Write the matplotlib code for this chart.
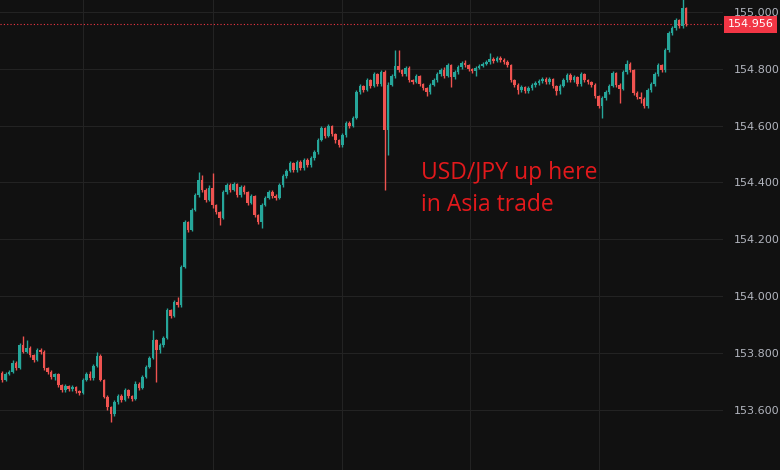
import matplotlib
matplotlib.use("Agg")
import matplotlib.pyplot as plt
import matplotlib.transforms as mtransforms
import numpy as np

# USD/JPY short-timeframe candles (prices)
first_open = 153.729
closes = [
    153.704, 153.725, 153.732, 153.764, 153.746, 153.827, 153.803, 153.817, 153.792, 153.774,
    153.810, 153.803, 153.746, 153.732, 153.715, 153.725, 153.686, 153.669, 153.683, 153.672,
    153.679, 153.665, 153.658, 153.704, 153.725, 153.711, 153.753, 153.788, 153.704, 153.644,
    153.609, 153.584, 153.627, 153.648, 153.634, 153.669, 153.648, 153.637, 153.690, 153.676,
    153.715, 153.750, 153.781, 153.845, 153.810, 153.827, 153.852, 153.950, 153.929, 153.979,
    153.968, 154.102, 154.260, 154.232, 154.303, 154.355, 154.408, 154.373, 154.338, 154.380,
    154.320, 154.296, 154.274, 154.366, 154.391, 154.373, 154.394, 154.355, 154.384, 154.366,
    154.327, 154.352, 154.285, 154.260, 154.320, 154.345, 154.366, 154.352, 154.345, 154.391,
    154.422, 154.440, 154.468, 154.443, 154.472, 154.450, 154.479, 154.461, 154.486, 154.507,
    154.549, 154.591, 154.563, 154.598, 154.570, 154.549, 154.531, 154.567, 154.609, 154.598,
    154.627, 154.718, 154.739, 154.725, 154.760, 154.739, 154.781, 154.746, 154.788, 154.584,
    154.743, 154.774, 154.810, 154.796, 154.781, 154.803, 154.760, 154.753, 154.774, 154.746,
    154.732, 154.718, 154.743, 154.760, 154.781, 154.796, 154.774, 154.813, 154.771, 154.788,
    154.806, 154.820, 154.813, 154.799, 154.792, 154.803, 154.810, 154.817, 154.824, 154.834,
    154.827, 154.838, 154.831, 154.824, 154.813, 154.760, 154.743, 154.725, 154.736, 154.722,
    154.732, 154.743, 154.750, 154.757, 154.764, 154.753, 154.764, 154.739, 154.722, 154.739,
    154.760, 154.778, 154.760, 154.771, 154.746, 154.781, 154.760, 154.753, 154.743, 154.704,
    154.669, 154.697, 154.718, 154.739, 154.785, 154.743, 154.729, 154.788, 154.817, 154.796,
    154.715, 154.700, 154.693, 154.669, 154.725, 154.746, 154.781, 154.813, 154.796, 154.866,
    154.926, 154.943, 154.972, 154.950, 155.014, 154.956,
]
highs = [
    153.736, 153.732, 153.740, 153.775, 153.770, 153.834, 153.859, 153.845, 153.822, 153.797,
    153.815, 153.815, 153.808, 153.750, 153.740, 153.730, 153.730, 153.690, 153.690, 153.688,
    153.685, 153.684, 153.670, 153.710, 153.732, 153.735, 153.760, 153.803, 153.795, 153.708,
    153.650, 153.612, 153.635, 153.655, 153.655, 153.676, 153.672, 153.652, 153.700, 153.697,
    153.722, 153.757, 153.790, 153.880, 153.850, 153.835, 153.860, 153.958, 153.955, 153.985,
    153.995, 154.110, 154.268, 154.265, 154.310, 154.362, 154.436, 154.425, 154.380, 154.390,
    154.433, 154.325, 154.300, 154.372, 154.398, 154.396, 154.400, 154.398, 154.392, 154.390,
    154.370, 154.360, 154.356, 154.290, 154.326, 154.352, 154.372, 154.372, 154.360, 154.398,
    154.430, 154.446, 154.475, 154.472, 154.480, 154.478, 154.485, 154.485, 154.492, 154.514,
    154.556, 154.600, 154.596, 154.606, 154.602, 154.575, 154.553, 154.574, 154.616, 154.615,
    154.634, 154.726, 154.746, 154.744, 154.767, 154.764, 154.790, 154.786, 154.796, 154.795,
    154.755, 154.782, 154.866, 154.866, 154.800, 154.810, 154.808, 154.765, 154.780, 154.778,
    154.750, 154.736, 154.750, 154.767, 154.788, 154.803, 154.805, 154.820, 154.817, 154.795,
    154.813, 154.826, 154.830, 154.818, 154.803, 154.808, 154.816, 154.822, 154.830, 154.855,
    154.842, 154.845, 154.844, 154.838, 154.830, 154.818, 154.765, 154.750, 154.742, 154.740,
    154.738, 154.750, 154.756, 154.763, 154.770, 154.770, 154.770, 154.768, 154.743, 154.745,
    154.768, 154.785, 154.785, 154.778, 154.775, 154.788, 154.785, 154.765, 154.757, 154.748,
    154.708, 154.705, 154.725, 154.746, 154.792, 154.790, 154.748, 154.796, 154.831, 154.822,
    154.800, 154.720, 154.718, 154.700, 154.732, 154.753, 154.788, 154.820, 154.818, 154.874,
    154.934, 154.950, 154.978, 154.976, 155.045, 155.016,
]
lows = [
    153.697, 153.700, 153.720, 153.728, 153.740, 153.742, 153.798, 153.798, 153.786, 153.768,
    153.770, 153.795, 153.740, 153.725, 153.708, 153.705, 153.679, 153.660, 153.662, 153.666,
    153.666, 153.658, 153.650, 153.655, 153.700, 153.705, 153.705, 153.748, 153.700, 153.640,
    153.600, 153.556, 153.578, 153.620, 153.628, 153.630, 153.640, 153.630, 153.632, 153.668,
    153.672, 153.710, 153.745, 153.778, 153.697, 153.800, 153.820, 153.848, 153.922, 153.925,
    153.962, 153.962, 154.098, 154.225, 154.228, 154.298, 154.350, 154.366, 154.330, 154.334,
    154.310, 154.288, 154.250, 154.270, 154.360, 154.365, 154.368, 154.348, 154.350, 154.360,
    154.320, 154.322, 154.278, 154.252, 154.239, 154.315, 154.340, 154.345, 154.338, 154.340,
    154.385, 154.415, 154.435, 154.436, 154.438, 154.444, 154.445, 154.455, 154.455, 154.480,
    154.500, 154.545, 154.556, 154.558, 154.563, 154.540, 154.524, 154.525, 154.560, 154.592,
    154.594, 154.622, 154.712, 154.718, 154.720, 154.732, 154.735, 154.740, 154.740, 154.373,
    154.496, 154.738, 154.768, 154.790, 154.774, 154.776, 154.752, 154.745, 154.748, 154.740,
    154.725, 154.704, 154.712, 154.738, 154.755, 154.776, 154.768, 154.770, 154.736, 154.764,
    154.782, 154.800, 154.806, 154.792, 154.786, 154.775, 154.798, 154.805, 154.812, 154.818,
    154.820, 154.822, 154.825, 154.818, 154.806, 154.752, 154.736, 154.710, 154.718, 154.715,
    154.716, 154.726, 154.736, 154.743, 154.750, 154.746, 154.746, 154.732, 154.707, 154.712,
    154.735, 154.755, 154.752, 154.752, 154.738, 154.740, 154.752, 154.745, 154.735, 154.697,
    154.660, 154.627, 154.690, 154.712, 154.735, 154.736, 154.679, 154.725, 154.782, 154.790,
    154.708, 154.692, 154.680, 154.662, 154.662, 154.718, 154.740, 154.775, 154.788, 154.790,
    154.860, 154.920, 154.938, 154.944, 154.945, 154.950,
]

price_ticks = [153.6, 153.8, 154.0, 154.2, 154.4, 154.6, 154.8, 155.0]
time_grid = [23.1, 60.0, 96.9, 133.4, 170.0]  # session gridlines (candle index)
note_text = "USD/JPY up here\nin Asia trade"

BG = "#111111"
GRID = "#232323"
UP = "#26a69a"
DOWN = "#ef5350"
LABEL = "#b2b5be"

opens = [first_open] + closes[:-1]
idx = np.arange(len(closes))
o = np.array(opens)
c = np.array(closes)
h = np.array(highs)
l = np.array(lows)
up = c >= o
colors = np.where(up, UP, DOWN)

fig = plt.figure(figsize=(7.8, 4.7), dpi=100, facecolor=BG)
ax = fig.add_axes([0, 0, 0.927, 1])
ax.set_facecolor(BG)

ax.vlines(idx, l, h, colors=colors, lw=1.0, zorder=3)
body_lo = np.minimum(o, c)
body_h = np.maximum(np.abs(c - o), 0.002)
ax.bar(idx, body_h, bottom=body_lo, width=0.72, color=colors, linewidth=0, zorder=4)

ax.set_xlim(-0.6, len(closes) - 1 + 10.5)
ax.set_ylim(153.387, 155.042)

ax.set_yticks(price_ticks)
ax.set_yticklabels([f"{p:.3f}" for p in price_ticks])
ax.yaxis.tick_right()
ax.tick_params(axis="y", length=0, pad=8, labelsize=8, labelcolor=LABEL)
ax.set_xticks([])
for p in price_ticks:
    ax.axhline(p, color=GRID, lw=0.8, zorder=1)
for t in time_grid:
    ax.axvline(t, color=GRID, lw=0.8, zorder=1)
for s in ax.spines.values():
    s.set_visible(False)

# last price line + label
last = closes[-1]
ax.axhline(last, color="#f23645", lw=0.8, ls=(0, (1, 2)), zorder=2)
trans = mtransforms.blended_transform_factory(ax.transAxes, ax.transData)
ax.annotate(f"{last:.3f}", xy=(1.0, last), xycoords=trans, xytext=(3.5, 0),
            textcoords="offset points", ha="left", va="center",
            fontsize=8, color="white", annotation_clip=False,
            bbox=dict(boxstyle="square,pad=0.32", fc="#f23645", ec="none"))

ax.text(119.4, 154.474, note_text, ha="left", va="top", fontsize=16.5,
        color="#e3191c", family=["Open Sans", "DejaVu Sans"], linespacing=1.45, zorder=5)

fig.savefig("out.png", dpi=100, facecolor=BG)
